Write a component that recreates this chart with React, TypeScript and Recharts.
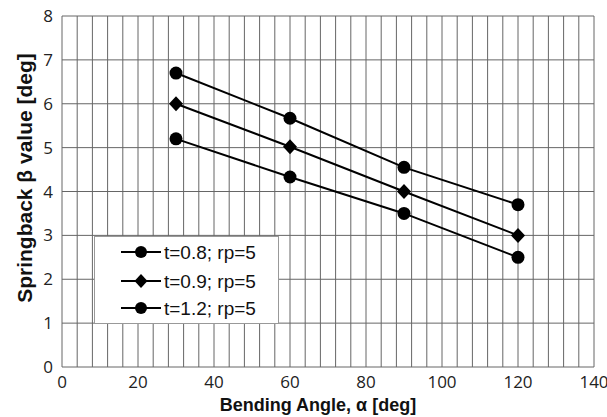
import React from 'react';
import { LineChart, Line, XAxis, YAxis, CartesianGrid, Legend, Label } from 'recharts';

const angles = [30, 60, 90, 120];
const t08 = [6.7, 5.67, 4.55, 3.7];
const t09 = [6.0, 5.02, 4.0, 3.0];
const t12 = [5.2, 4.33, 3.5, 2.5];
const seriesNames = ['t=0.8; rp=5', 't=0.9; rp=5', 't=1.2; rp=5'];
const xTicks = [0, 20, 40, 60, 80, 100, 120, 140];
const yTicks = [0, 1, 2, 3, 4, 5, 6, 7, 8];
const xGridValues = [0, 4, 8, 12, 16, 20, 24, 28, 32, 36, 40, 44, 48, 52, 56, 60, 64, 68, 72, 76, 80, 84, 88, 92, 96, 100, 104, 108, 112, 116, 120, 124, 128, 132, 136, 140];

const data = angles.map((a, i) => ({ angle: a, s1: t08[i], s2: t09[i], s3: t12[i] }));

const circleDot = (props: any) => (
  <circle key={`c-${props.dataKey}-${props.index}`} cx={props.cx} cy={props.cy} r={6.5} fill="#000" />
);
const diamondDot = (props: any) => {
  const { cx, cy } = props;
  return (
    <path
      key={`d-${props.index}`}
      d={`M${cx},${cy - 7.5} L${cx + 7},${cy} L${cx},${cy + 7.5} L${cx - 7},${cy} Z`}
      fill="#000"
    />
  );
};

const renderLegend = () => {
  const rows = [16, 45, 72];
  const shapes = ['circle', 'diamond', 'circle'];
  return (
    <div style={{ width: 185, height: 88, background: '#fff', border: '1px solid #999', boxSizing: 'border-box' }}>
      <svg width={183} height={86} style={{ display: 'block' }}>
        {seriesNames.map((name, i) => {
          const y = rows[i] - 1;
          return (
            <g key={name}>
              <line x1={26} x2={66} y1={y} y2={y} stroke="#000" strokeWidth={2} />
              {shapes[i] === 'circle' ? (
                <circle cx={46} cy={y} r={6} fill="#000" />
              ) : (
                <path d={`M46,${y - 7} L52.5,${y} L46,${y + 7} L39.5,${y} Z`} fill="#000" />
              )}
              <text x={69} y={y + 7} fontSize={19} fontFamily="Liberation Sans, Arial, sans-serif" fill="#111">
                {name}
              </text>
            </g>
          );
        })}
      </svg>
    </div>
  );
};

export default function App() {
  return (
    <div style={{ position: 'absolute', left: 0, top: 0, width: 607, height: 417, background: '#fff' }}>
      <LineChart width={607} height={417} data={data} margin={{ top: 16, right: 13, left: 0, bottom: 0 }}>
        <CartesianGrid stroke="#666" strokeWidth={1} verticalValues={xGridValues} horizontalValues={yTicks} />
        <XAxis
          type="number"
          dataKey="angle"
          domain={[0, 140]}
          ticks={xTicks}
          axisLine={false}
          tickLine={false}
          tickSize={0}
          tickMargin={9}
          height={50}
          interval={0}
          tick={{ fontSize: 17, fill: '#222', fontFamily: 'Open Sans, sans-serif' }}
        >
          <Label
            content={() => (
              <text
                x={318}
                y={411}
                textAnchor="middle"
                fontSize={18}
                fontWeight="bold"
                fontFamily="Liberation Sans, Arial, sans-serif"
                fill="#111"
              >
                Bending Angle, α [deg]
              </text>
            )}
          />
        </XAxis>
        <YAxis
          type="number"
          domain={[0, 8]}
          ticks={yTicks}
          axisLine={false}
          tickLine={false}
          tickSize={0}
          tickMargin={9}
          width={62}
          interval={0}
          tick={{ fontSize: 17, fill: '#222', fontFamily: 'Open Sans, sans-serif' }}
        >
          <Label
            content={() => (
              <text
                x={32}
                y={178}
                transform="rotate(-90, 32, 178)"
                textAnchor="middle"
                fontSize={21}
                fontWeight="bold"
                fontFamily="Liberation Sans, Arial, sans-serif"
                fill="#111"
              >
                Springback β value [deg]
              </text>
            )}
          />
        </YAxis>
        <Legend
          layout="vertical"
          align="center"
          verticalAlign="middle"
          content={renderLegend}
          wrapperStyle={{ position: 'absolute', left: 94, top: 236, width: 185, height: 88 }}
        />
        <Line dataKey="s1" name={seriesNames[0]} stroke="#000" strokeWidth={2} dot={circleDot} isAnimationActive={false} />
        <Line dataKey="s2" name={seriesNames[1]} stroke="#000" strokeWidth={2} dot={diamondDot} isAnimationActive={false} />
        <Line dataKey="s3" name={seriesNames[2]} stroke="#000" strokeWidth={2} dot={circleDot} isAnimationActive={false} />
      </LineChart>
    </div>
  );
}
